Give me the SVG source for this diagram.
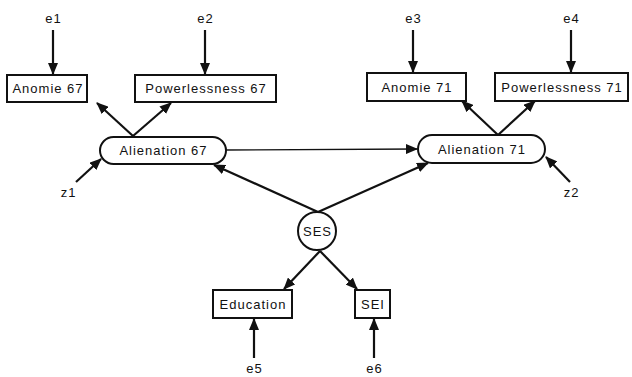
<svg xmlns="http://www.w3.org/2000/svg" width="632" height="377" viewBox="0 0 632 377">
<style>
text{font-family:"Liberation Sans",Arial,sans-serif;font-size:13px;letter-spacing:1px;fill:#111;text-anchor:middle}
.box{fill:#fff;stroke:#111;stroke-width:2}
.c{stroke:#111;stroke-width:2.2;fill:none;marker-end:url(#ah)}
.c1{stroke:#111;stroke-width:1.4;fill:none;marker-end:url(#ah)}
</style>
<defs>
<marker id="ah" markerWidth="12" markerHeight="10" refX="11" refY="5" orient="auto" markerUnits="userSpaceOnUse">
<path d="M0,0 L12,5 L0,10 Z" fill="#111"/>
</marker>
</defs>
<rect width="632" height="377" fill="#fff"/>
<g id="connectors">
<line class="c" x1="53" y1="30" x2="53" y2="74"/>
<line class="c" x1="205" y1="30" x2="205" y2="74"/>
<line class="c" x1="413" y1="30" x2="413" y2="72"/>
<line class="c" x1="571" y1="30" x2="571" y2="72"/>
<line class="c" x1="133" y1="136" x2="97" y2="103"/>
<line class="c" x1="133" y1="136" x2="171" y2="103"/>
<line class="c" x1="498" y1="135" x2="462" y2="101"/>
<line class="c" x1="498" y1="135" x2="535" y2="101"/>
<line class="c1" x1="226" y1="150" x2="417" y2="149"/>
<line class="c" x1="76" y1="182" x2="101" y2="159"/>
<line class="c" x1="570" y1="182" x2="546" y2="157"/>
<line class="c" x1="318" y1="212" x2="214" y2="165"/>
<line class="c" x1="318" y1="212" x2="428" y2="163"/>
<line class="c" x1="320" y1="251" x2="284" y2="289"/>
<line class="c" x1="320" y1="251" x2="357" y2="289"/>
<line class="c" x1="254" y1="358" x2="254" y2="319"/>
<line class="c" x1="374" y1="358" x2="374" y2="319"/>
</g>
<g id="e1"><text x="53.5" y="23">e1</text></g>
<g id="e2"><text x="205.5" y="23">e2</text></g>
<g id="e3"><text x="413.5" y="23">e3</text></g>
<g id="e4"><text x="571.5" y="23">e4</text></g>
<g id="e5"><text x="254.5" y="373">e5</text></g>
<g id="e6"><text x="374.5" y="373">e6</text></g>
<g id="z1"><text x="68.5" y="197">z1</text></g>
<g id="z2"><text x="571.5" y="197">z2</text></g>
<g id="anomie67"><rect class="box" x="7" y="75" width="80" height="27"/><text x="48" y="93">Anomie 67</text></g>
<g id="powerlessness67"><rect class="box" x="135" y="75" width="141" height="27"/><text x="206" y="93">Powerlessness 67</text></g>
<g id="anomie71"><rect class="box" x="367" y="73" width="99" height="28"/><text x="417" y="92">Anomie 71</text></g>
<g id="powerlessness71"><rect class="box" x="495" y="73" width="133" height="28"/><text x="562" y="92">Powerlessness 71</text></g>
<g id="alienation67"><rect class="box" x="100" y="137" width="126" height="27" rx="13.5"/><text x="163.5" y="155">Alienation 67</text></g>
<g id="alienation71"><rect class="box" x="418" y="135" width="127" height="28" rx="14"/><text x="482" y="154">Alienation 71</text></g>
<g id="ses"><circle class="box" cx="317" cy="231" r="19"/><text x="317.5" y="236">SES</text></g>
<g id="education"><rect class="box" x="213" y="290" width="79" height="28"/><text x="253" y="309">Education</text></g>
<g id="sei"><rect class="box" x="355" y="290" width="35" height="28"/><text x="373" y="309">SEI</text></g>
</svg>
